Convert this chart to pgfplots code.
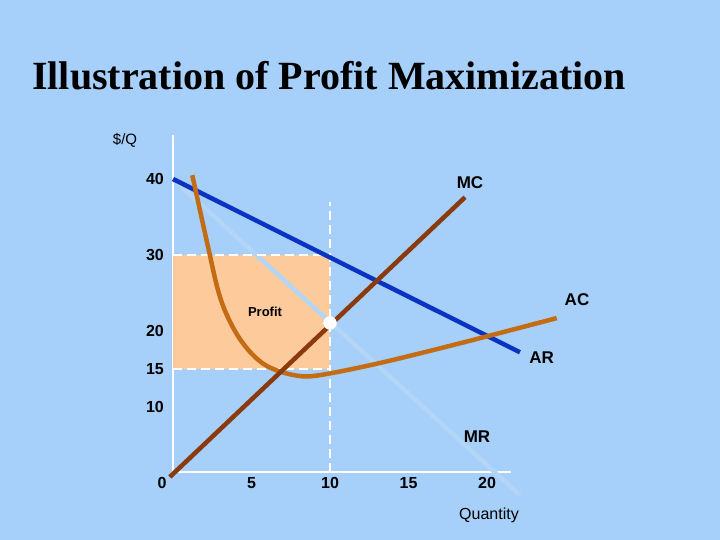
\documentclass[border=0pt]{standalone}
\usepackage{fontspec}
\setmainfont{Liberation Sans}
\newfontfamily\titlefont{Liberation Serif}
\usepackage{pgfplots}
\pgfplotsset{compat=1.18}
\usepackage{xcolor}
\definecolor{slidebg}{HTML}{A6CFFA}
\definecolor{profitfill}{HTML}{FDCB9B}
\definecolor{arblue}{HTML}{0A33C4}
\definecolor{mrblue}{HTML}{B4D6F6}
\definecolor{mcbrown}{HTML}{8B3A0E}
\definecolor{acorange}{HTML}{C46C14}

\newcommand{\lbl}{\bfseries\fontsize{17bp}{20bp}\selectfont}

\begin{document}
\begin{tikzpicture}
  \useasboundingbox (0bp,0bp) rectangle (720bp,540bp);
  \fill[slidebg] (0bp,0bp) rectangle (720bp,540bp);
  \node[anchor=base west, inner sep=0pt,
        font=\titlefont\bfseries\fontsize{40bp}{44bp}\selectfont]
    at (32bp,450bp) {Illustration of Profit Maximization};

  \begin{axis}[
      at={(173bp,68bp)}, anchor=south west,
      x=15.7bp, y=7.6bp,
      xmin=0, xmax=21.5, ymin=1.45, ymax=45.8,
      axis x line=bottom, axis y line=left,
      axis line style={white, line width=2bp, -},
      xtick={5,10,15,20}, ytick={10,15,20,30,40},
      major tick length=0pt,
      /pgf/number format/assume math mode=true,
      ticklabel style={font=\bfseries\fontsize{16bp}{18bp}\selectfont, inner sep=0pt},
      xticklabel style={anchor=north, yshift=-5bp},
      yticklabel style={anchor=east, xshift=-9bp},
      clip=false,
    ]
    % profit area
    \addplot[fill=profitfill, draw=none]
      coordinates {(0,15) (10,15) (10,30) (0,30) (0,15)};
    % MR
    \addplot[mrblue, line width=4.5bp]
      coordinates {(0,40) (22.1,-1.6)};
    % dashed guides
    \addplot[white, line width=2.2bp, dash pattern=on 9bp off 5bp]
      coordinates {(0,30) (10,30)};
    \addplot[white, line width=2.2bp, dash pattern=on 9bp off 5bp]
      coordinates {(0,15) (10,15)};
    \addplot[white, line width=2.2bp, dash pattern=on 9bp off 5bp]
      coordinates {(10,1.45) (10,37)};
    % AR
    \addplot[arblue, line width=4.5bp]
      coordinates {(0,40) (22.1,17.2)};
    % AC
    \addplot[acorange, line width=4.5bp, smooth, tension=0.6]
      coordinates {(1.23,40.5) (2.25,30.9) (2.89,25.2)
                   (3.52,21.7) (4.38,18.6) (5.43,16.2) (6.50,14.9)
                   (8.0,14.1) (9.36,14.2) (12.55,15.5) (16.0,17.2)
                   (20.0,19.3) (24.44,21.7)};
    % MC
    \addplot[mcbrown, line width=4.5bp]
      coordinates {(-0.2,0.8) (18.6,37.6)};
    % optimum
    \addplot[only marks, mark=*, mark size=6.5bp, white]
      coordinates {(10,21.05)};
  \end{axis}

  \node[font=\lbl] at (470bp,357.5bp) {MC};
  \node[font=\lbl] at (577bp,240bp) {AC};
  \node[font=\lbl] at (541.7bp,182.7bp) {AR};
  \node[font=\lbl] at (477bp,103bp) {MR};
  \node[font=\bfseries\fontsize{13bp}{15bp}\selectfont] at (265bp,228bp) {Profit};
  \node[font=\fontsize{15bp}{18bp}\selectfont] at (125bp,400bp) {\$/Q};
  \node[anchor=base, font=\fontsize{16bp}{18bp}\selectfont] at (489bp,21bp) {Quantity};
  \node[font=\bfseries\fontsize{16bp}{18bp}\selectfont] at (162bp,57bp) {0};
\end{tikzpicture}
\end{document}
